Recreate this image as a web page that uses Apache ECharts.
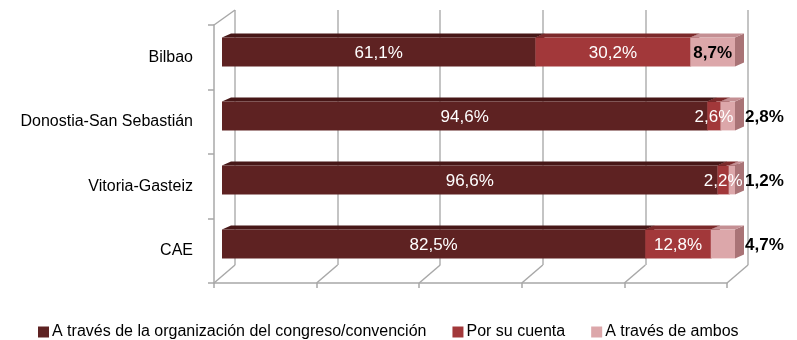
<!DOCTYPE html>
<html>
<head>
<meta charset="utf-8">
<script src="https://cdn.jsdelivr.net/npm/echarts@6/dist/echarts.min.js"></script>
<style>
  html, body { margin: 0; padding: 0; background: #fff; }
  #chart { width: 797px; height: 340px; }
</style>
</head>
<body>
<div id="chart"></div>
<script>
// datos
const ciudades = ['Bilbao', 'Donostia-San Sebastián', 'Vitoria-Gasteiz', 'CAE'];
const organizacion = [61.1, 94.6, 96.6, 82.5];
const porSuCuenta = [30.2, 2.6, 2.2, 12.8];
const ambos = [8.7, 2.8, 1.2, 4.7];
const nombres = ['A través de la organización del congreso/convención', 'Por su cuenta', 'A través de ambos'];
const ticksX = [0, 20, 40, 60, 80, 100];

const FONT = "'Liberation Sans', Arial, sans-serif";
const frente = ['#5e2222', '#a2383a', '#dca7aa'];
const arriba = ['#471717', '#7c2a2b', '#c48f93'];
const lado = ['#3d1313', '#6e2324', '#a97376'];
const DX = 9, DY = -4;

const chart = echarts.init(document.getElementById('chart'));

function fmt(v) { return v.toFixed(1).replace('.', ',') + '%'; }

// tramos acumulados
const valores = [organizacion, porSuCuenta, ambos];
const tramos = valores.map(() => []);
ciudades.forEach((c, i) => {
    let acc = 0;
    valores.forEach((arr, k) => {
        tramos[k].push([acc, acc + arr[i], i, arr[i]]);
        acc += arr[i];
    });
});

function barra(k) {
    return function (params, api) {
        const s = api.value(0), e = api.value(1), c = api.value(2), v = api.value(3);
        const p0 = api.coord([s, c]), p1 = api.coord([e, c]);
        const h = api.size([0, 1])[1] * 0.45;
        const x0 = p0[0], x1 = p1[0], y0 = p0[1] - h / 2;
        const w = x1 - x0;
        let texto;
        if (k < 2) {
            texto = { type: 'text', z2: 100, style: { x: x0 + w / 2, y: y0 + h / 2 + 1, text: fmt(v), fill: '#fff',
                font: '17px ' + FONT, align: 'center', verticalAlign: 'middle' } };
        } else if (w > 30) {
            texto = { type: 'text', z2: 100, style: { x: x0 + w / 2, y: y0 + h / 2 + 1, text: fmt(v), fill: '#000',
                font: 'bold 17px ' + FONT, align: 'center', verticalAlign: 'middle' } };
        } else {
            texto = { type: 'text', z2: 100, style: { x: x1 + DX + 1, y: y0 + h / 2 + 1, text: fmt(v), fill: '#000',
                font: 'bold 17px ' + FONT, align: 'left', verticalAlign: 'middle' } };
        }
        return {
            type: 'group',
            children: [
                { type: 'polygon', shape: { points: [[x1, y0], [x1 + DX, y0 + DY], [x1 + DX, y0 + h + DY], [x1, y0 + h]] },
                  style: { fill: lado[k] } },
                { type: 'polygon', shape: { points: [[x0, y0], [x1, y0], [x1 + DX, y0 + DY], [x0 + DX, y0 + DY]] },
                  style: { fill: arriba[k] } },
                { type: 'rect', shape: { x: x0, y: y0, width: w, height: h }, style: { fill: frente[k] } },
                texto
            ]
        };
    };
}

// lineas del suelo en perspectiva
function suelo(params, api) {
    const cs = params.coordSys;
    const x = api.coord([api.value(0), 0])[0];
    const yb = cs.y + cs.height;
    const hijos = [{ type: 'line', shape: { x1: x, y1: yb, x2: x + 21, y2: yb - 18 },
        style: { stroke: '#a8a8a8', lineWidth: 1.5 } }];
    if (params.dataIndex === 0) {
        hijos.push({ type: 'line', shape: { x1: cs.x, y1: cs.y, x2: cs.x + 21, y2: cs.y - 15 },
            style: { stroke: '#a8a8a8', lineWidth: 1.5 } });
    }
    return { type: 'group', children: hijos };
}

const option = {
    animation: false,
    backgroundColor: '#fff',
    legend: {
        left: 33,
        top: 319,
        itemWidth: 11,
        itemHeight: 11,
        itemGap: 26,
        icon: 'rect',
        data: nombres,
        textStyle: { fontFamily: FONT, fontSize: 16, color: '#000', padding: [0, 0, 0, -2] }
    },
    grid: [
        { left: 214, right: 70, top: 25, bottom: 57 },   // plano frontal
        { left: 235, right: 49, top: 10, bottom: 75 },   // pared del fondo
        { left: 222, right: 62, top: 20, bottom: 64 }    // barras
    ],
    xAxis: [
        { gridIndex: 0, type: 'value', min: 0, max: 100, interval: 20,
          axisLine: { show: true, lineStyle: { color: '#a8a8a8', width: 1.5 } },
          axisTick: { show: true, length: 5, lineStyle: { color: '#a8a8a8', width: 1.5 } },
          axisLabel: { show: false }, splitLine: { show: false } },
        { gridIndex: 1, type: 'value', min: 0, max: 100, interval: 20,
          axisLine: { show: false }, axisTick: { show: false }, axisLabel: { show: false },
          splitLine: { show: true, lineStyle: { color: '#b0b0b0', width: 1.5 } } },
        { gridIndex: 2, type: 'value', min: 0, max: 100, show: false, splitLine: { show: false } }
    ],
    yAxis: [
        { gridIndex: 0, type: 'category', data: ciudades, inverse: true,
          axisLine: { show: true, lineStyle: { color: '#a8a8a8', width: 1.5 } },
          axisTick: { show: true, length: 6, lineStyle: { color: '#a8a8a8', width: 1.5 } },
          axisLabel: { margin: 21, color: '#000', fontFamily: FONT, fontSize: 16 } },
        { gridIndex: 1, type: 'category', data: ciudades, inverse: true, show: false },
        { gridIndex: 2, type: 'category', data: ciudades, inverse: true, show: false }
    ],
    series: [
        { type: 'custom', xAxisIndex: 0, yAxisIndex: 0, data: ticksX.map(t => [t]), renderItem: suelo, silent: true },
        { name: nombres[0], type: 'custom', xAxisIndex: 2, yAxisIndex: 2, data: tramos[0], renderItem: barra(0),
          itemStyle: { color: frente[0] }, encode: { x: [0, 1], y: 2 } },
        { name: nombres[1], type: 'custom', xAxisIndex: 2, yAxisIndex: 2, data: tramos[1], renderItem: barra(1),
          itemStyle: { color: frente[1] }, encode: { x: [0, 1], y: 2 } },
        { name: nombres[2], type: 'custom', xAxisIndex: 2, yAxisIndex: 2, data: tramos[2], renderItem: barra(2),
          itemStyle: { color: frente[2] }, encode: { x: [0, 1], y: 2 } }
    ]
};
chart.setOption(option);
</script>
</body>
</html>
